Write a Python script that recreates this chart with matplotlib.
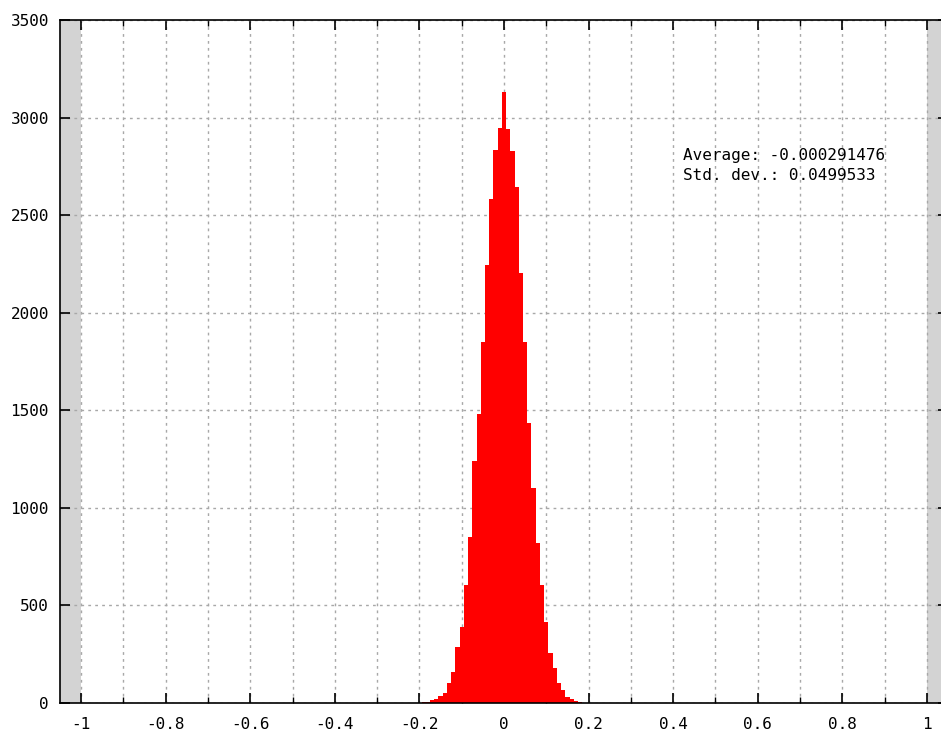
import matplotlib
matplotlib.use("Agg")
import matplotlib.pyplot as plt
import numpy as np
from matplotlib.ticker import MultipleLocator

# histogram: bin centres (width 0.01) and counts
bin_centers = [-0.19, -0.18, -0.17, -0.16, -0.15, -0.14, -0.13, -0.12, -0.11, -0.10,
               -0.09, -0.08, -0.07, -0.06, -0.05, -0.04, -0.03, -0.02, -0.01, 0.00,
               0.01, 0.02, 0.03, 0.04, 0.05, 0.06, 0.07, 0.08, 0.09, 0.10,
               0.11, 0.12, 0.13, 0.14, 0.15, 0.16, 0.17, 0.18]
counts = [3, 7, 13, 23, 36, 52, 103, 160, 287, 389,
          606, 849, 1240, 1479, 1848, 2243, 2581, 2834, 2948, 3133,
          2940, 2829, 2643, 2204, 1852, 1433, 1103, 821, 606, 415,
          255, 180, 100, 67, 30, 19, 10, 4]
bin_width = 0.01
stats_lines = ["Average: -0.000291476", "Std. dev.: 0.0499533"]

plt.rcParams["font.family"] = ["DejaVu Sans Mono"]
plt.rcParams["font.size"] = 11.5
plt.rcParams["axes.unicode_minus"] = False

fig = plt.figure(figsize=(9.41, 7.34), dpi=100)
# right edge of the axes runs past the picture, as in the reference
ax = fig.add_axes([60 / 941, 31 / 734, 888 / 941, 683 / 734])

ax.set_xlim(-1.05, 1.05)
ax.set_ylim(0, 3500)

# grey bands outside [-1, 1]
ax.axvspan(-1.05, -1.0, color="lightgray", lw=0, zorder=0)
ax.axvspan(1.0, 1.05, color="lightgray", lw=0, zorder=0)

ax.bar(bin_centers, counts, width=bin_width, color="red", lw=0, zorder=2)

ax.text(0.423, 2804, stats_lines[0], va="center", ha="left", zorder=3)
ax.text(0.423, 2701, stats_lines[1], va="center", ha="left", zorder=3)

ax.xaxis.set_major_locator(MultipleLocator(0.2))
ax.xaxis.set_minor_locator(MultipleLocator(0.1))
ax.yaxis.set_major_locator(MultipleLocator(500))
ax.xaxis.set_major_formatter(lambda v, p: f"{v:g}" if abs(v) > 1e-9 else "0")

ax.grid(True, which="both", axis="x", color="#a8a8a8", lw=1, ls=(0, (2, 3)), zorder=1)
ax.grid(True, which="major", axis="y", color="#a8a8a8", lw=1, ls=(0, (2, 3)), zorder=1)
ax.set_axisbelow(True)

ax.tick_params(which="major", direction="in", length=7, width=1.2,
               top=True, right=True, pad=10)
ax.tick_params(which="minor", direction="in", length=4, width=1,
               top=True, right=True)
ax.tick_params(axis="y", pad=8)
for sp in ax.spines.values():
    sp.set_linewidth(1.2)

fig.savefig("out.png", dpi=100)
